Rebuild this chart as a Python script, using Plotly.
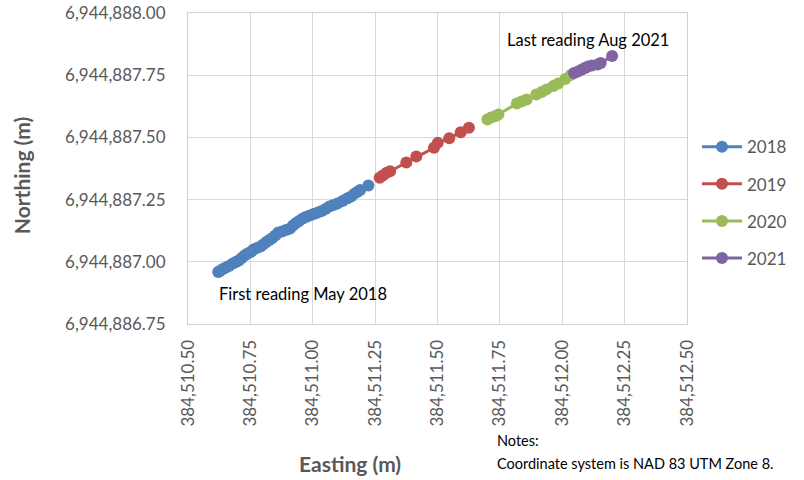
import plotly.graph_objects as go

easting_2018 = [384510.621, 384510.628, 384510.640, 384510.652, 384510.664, 384510.680, 384510.692,
                384510.704, 384510.715, 384510.727, 384510.739, 384510.751, 384510.763, 384510.775,
                384510.791, 384510.802, 384510.814, 384510.826, 384510.838, 384510.850, 384510.862,
                384510.877, 384510.893, 384510.909, 384510.921, 384510.933, 384510.945, 384510.960,
                384510.972, 384510.988, 384511.004, 384511.020, 384511.036, 384511.051, 384511.067,
                384511.083, 384511.099, 384511.119, 384511.138, 384511.154, 384511.166, 384511.178,
                384511.190, 384511.223]
northing_2018 = [6944886.959, 6944886.963, 6944886.971, 6944886.977, 6944886.983, 6944886.993, 6944886.999,
                 6944887.005, 6944887.015, 6944887.025, 6944887.033, 6944887.039, 6944887.049, 6944887.055,
                 6944887.061, 6944887.070, 6944887.080, 6944887.088, 6944887.096, 6944887.106, 6944887.118,
                 6944887.122, 6944887.128, 6944887.134, 6944887.146, 6944887.156, 6944887.164, 6944887.174,
                 6944887.180, 6944887.186, 6944887.192, 6944887.198, 6944887.204, 6944887.212, 6944887.222,
                 6944887.228, 6944887.234, 6944887.244, 6944887.254, 6944887.262, 6944887.273, 6944887.281,
                 6944887.289, 6944887.307]

easting_2019 = [384511.268, 384511.281, 384511.296, 384511.310, 384511.375, 384511.415, 384511.486,
                384511.501, 384511.547, 384511.593, 384511.626]
northing_2019 = [6944887.338, 6944887.347, 6944887.358, 6944887.364, 6944887.399, 6944887.423, 6944887.458,
                 6944887.478, 6944887.497, 6944887.521, 6944887.539]

easting_2020 = [384511.700, 384511.715, 384511.731, 384511.744, 384511.818, 384511.837, 384511.857,
                384511.896, 384511.917, 384511.937, 384511.964, 384511.984, 384512.012, 384512.034]
northing_2020 = [6944887.572, 6944887.580, 6944887.585, 6944887.592, 6944887.636, 6944887.644, 6944887.652,
                 6944887.672, 6944887.682, 6944887.693, 6944887.707, 6944887.717, 6944887.735, 6944887.751]

easting_2021 = [384512.047, 384512.063, 384512.079, 384512.091, 384512.103, 384512.119, 384512.142,
                384512.154, 384512.200]
northing_2021 = [6944887.759, 6944887.765, 6944887.773, 6944887.779, 6944887.785, 6944887.789, 6944887.793,
                 6944887.799, 6944887.827]

series_names = ["2018", "2019", "2020", "2021"]
series_colors = ["#4F81BD", "#C0504D", "#9BBB59", "#8064A2"]
x_ticks = [384510.50, 384510.75, 384511.00, 384511.25, 384511.50, 384511.75, 384512.00, 384512.25, 384512.50]
y_ticks = [6944886.75, 6944887.00, 6944887.25, 6944887.50, 6944887.75, 6944888.00]

FONT = "Lato"
GRAY = "#595959"

fig = go.Figure()
data = [(easting_2018, northing_2018), (easting_2019, northing_2019),
        (easting_2020, northing_2020), (easting_2021, northing_2021)]
for (xs, ys), name, col in zip(data, series_names, series_colors):
    fig.add_trace(go.Scatter(
        x=xs, y=ys, name=name, mode="lines+markers", legendgroup=name,
        line=dict(color=col, width=3),
        marker=dict(color=col, size=12),
    ))

fig.update_layout(
    width=804, height=480,
    margin=dict(l=188, r=110, t=13, b=156),
    paper_bgcolor="white", plot_bgcolor="white",
    font=dict(family=FONT, size=17, color=GRAY),
    showlegend=True,
    legend=dict(x=1.02, xanchor="left", y=0.39, yanchor="middle",
                font=dict(size=17, color=GRAY), tracegroupgap=12,
                itemwidth=40, bgcolor="rgba(0,0,0,0)"),
    xaxis=dict(range=[384510.5, 384512.5], tickvals=x_ticks, tickformat=",.2f",
               tickangle=-90, showgrid=True, gridcolor="#D9D9D9", gridwidth=1,
               showline=True, linecolor="#D0D0D0", mirror=True, zeroline=False,
               ticks="", ticklabelstandoff=8, automargin=False,
               tickfont=dict(size=17, color=GRAY)),
    yaxis=dict(range=[6944886.75, 6944888.0], tickvals=y_ticks, tickformat=",.2f",
               showgrid=True, gridcolor="#D9D9D9", gridwidth=1,
               showline=True, linecolor="#D0D0D0", mirror=True, zeroline=False,
               ticks="", ticklabelstandoff=18, automargin=False,
               tickfont=dict(size=17, color=GRAY)),
)

annotations = [
    dict(text="<b>Northing (m)</b>", xref="paper", yref="paper", x=(20 - 188.5) / 506, y=0.478,
         xanchor="center", yanchor="middle", textangle=-90, showarrow=False,
         font=dict(size=21, color=GRAY)),
    dict(text="<b>Easting (m)</b>", xref="paper", yref="paper", x=(353 - 188.5) / 506, y=-0.4477,
         xanchor="center", yanchor="middle", showarrow=False,
         font=dict(size=21, color=GRAY)),
    dict(text="First reading May 2018", xref="x", yref="y", x=384510.617, y=6944886.869,
         xanchor="left", yanchor="middle", showarrow=False,
         font=dict(size=16.5, color="#000000")),
    dict(text="Last reading Aug 2021", xref="x", yref="y", x=384511.771, y=6944887.893,
         xanchor="left", yanchor="middle", showarrow=False,
         font=dict(size=16.5, color="#000000")),
    dict(text="Notes:", xref="paper", yref="paper", x=(500 - 188.5) / 506, y=-0.3736,
         xanchor="left", yanchor="middle", showarrow=False,
         font=dict(size=14.5, color="#000000")),
    dict(text="Coordinate system is NAD 83 UTM Zone 8.", xref="paper", yref="paper",
         x=(500 - 188.5) / 506, y=-0.4477, xanchor="left", yanchor="middle", showarrow=False,
         font=dict(size=14.5, color="#000000")),
]
fig.update_layout(annotations=annotations)

fig.write_html("out.html", config={"displayModeBar": False},
               post_script="document.body.style.margin='0';document.body.style.padding='0';")
